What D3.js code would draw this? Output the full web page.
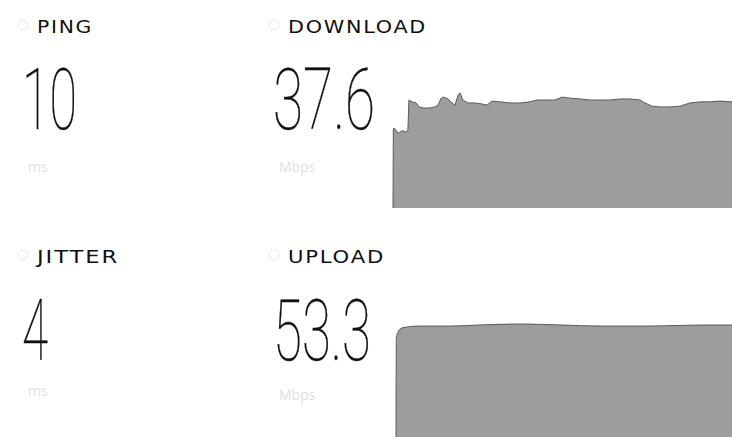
<!DOCTYPE html>
<html>
<head>
<meta charset="utf-8">
<script src="https://cdn.jsdelivr.net/npm/d3@7"></script>
<style>
  html, body { margin: 0; padding: 0; background: #fff; }
  svg { display: block; }
</style>
</head>
<body>
<div id="chart"></div>
<script>
// metric tiles
const labels = ["PING", "DOWNLOAD", "JITTER", "UPLOAD"];
const values = ["10", "37.6", "4", "53.3"];
const units = ["ms", "Mbps", "ms", "Mbps"];

// download throughput over the test (seconds, Mbps)
const downloadTimes = [0, 0.01, 0.03, 0.06, 0.15, 0.27, 0.38, 0.44, 0.47, 0.56, 0.68, 0.77, 0.91,
  1.09, 1.24, 1.33, 1.42, 1.50, 1.62, 1.74, 1.83, 1.92, 1.98, 2.06, 2.21, 2.42, 2.63, 2.77, 2.92,
  3.16, 3.45, 3.75, 4.04, 4.25, 4.48, 4.78, 4.99, 5.22, 5.52, 5.81, 6.11, 6.40, 6.70, 6.99, 7.29,
  7.43, 7.64, 7.88, 8.17, 8.47, 8.76, 9.06, 9.35, 9.65, 10];
const downloadMbps = [0, 29.3, 30, 29.6, 28, 29, 28.5, 29.3, 40.5, 39.8, 39.4, 37.9, 37.5,
  37.5, 37.9, 38.6, 41.2, 41.6, 40.9, 39.4, 38.6, 42.4, 43.1, 40.5, 39.4, 39.4, 39, 38.6, 40.1,
  39.8, 39.4, 39.4, 39.8, 40.5, 40.5, 40.5, 41.6, 41.2, 40.9, 40.5, 40.5, 40.5, 40.9, 40.9, 40.5,
  39.4, 38.2, 37.9, 37.9, 38.2, 39.4, 39.8, 39.8, 40.1, 39.8];

// upload throughput over the test
const uploadTimes = [0, 0.01, 0.06, 0.18, 0.7, 1.6, 2.5, 3.7, 4.9, 6.1, 7.6, 9.1, 10];
const uploadMbps = [0, 49, 51.8, 53.8, 54.7, 54.7, 55.2, 55.7, 55.2, 54.7, 54.7, 55.2, 55.2];

const width = 732, height = 437;

const svg = d3.select("#chart").append("svg")
  .attr("width", width)
  .attr("height", height)
  .attr("viewBox", [0, 0, width, height]);

// tile layout: column x, label baseline, number baseline, unit baseline
const tiles = [
  { x: 22, labelY: 33, numY: 129, unitY: 172, numW: 55 },
  { x: 273, labelY: 33, numY: 129, unitY: 172, numW: 102 },
  { x: 22, labelY: 263, numY: 360, unitY: 396, numW: 26 },
  { x: 273, labelY: 263, numY: 360, unitY: 400, numW: 98 }
];
const labelW = [56, 139, 82, 97];

const g = svg.selectAll("g.tile")
  .data(labels.map((l, i) => ({ label: l, value: values[i], unit: units[i], ...tiles[i], lw: labelW[i] })))
  .join("g")
  .attr("class", "tile");

// faint icon
g.append("circle")
  .attr("cx", d => d.x + 1)
  .attr("cy", d => d.labelY - 8)
  .attr("r", 5)
  .attr("fill", "none")
  .attr("stroke", "#e6e6e6")
  .attr("stroke-width", 1);

g.append("text")
  .attr("x", d => d.x + 15)
  .attr("y", d => d.labelY)
  .attr("font-family", "'DejaVu Sans', sans-serif")
  .attr("font-size", 18)
  .attr("letter-spacing", 1.5)
  .attr("fill", "#111")
  .attr("textLength", d => d.lw)
  .attr("lengthAdjust", "spacingAndGlyphs")
  .text(d => d.label);

g.append("text")
  .attr("x", d => d.x)
  .attr("y", d => d.numY)
  .attr("font-family", "Roboto, Inter, sans-serif")
  .attr("font-weight", 100)
  .attr("font-size", 86)
  .attr("fill", "#111")
  .attr("stroke", "#111")
  .attr("stroke-width", 0.4)
  .attr("textLength", d => d.numW)
  .attr("lengthAdjust", "spacingAndGlyphs")
  .text(d => d.value);

g.append("text")
  .attr("x", d => d.x + 6)
  .attr("y", d => d.unitY)
  .attr("font-family", "'Open Sans', sans-serif")
  .attr("font-size", 14)
  .attr("fill", "#e0e0e0")
  .text(d => d.unit);

// area charts
function drawArea(times, mbps, x0, x1, yBottom, yTop, maxV, curve) {
  const x = d3.scaleLinear().domain([0, 10]).range([x0, x1]);
  const y = d3.scaleLinear().domain([0, maxV]).range([yBottom, yTop]);
  const data = times.map((t, i) => ({ t, v: mbps[i] }));

  const area = d3.area()
    .x(d => x(d.t))
    .y0(y(0))
    .y1(d => y(d.v))
    .curve(curve);

  const line = d3.line()
    .x(d => x(d.t))
    .y(d => y(d.v))
    .curve(curve);

  svg.append("path")
    .datum(data)
    .attr("d", area)
    .attr("fill", "#9d9d9d");

  svg.append("path")
    .datum(data)
    .attr("d", line)
    .attr("fill", "none")
    .attr("stroke", "#5a5a5a")
    .attr("stroke-width", 1);
}

drawArea(downloadTimes, downloadMbps, 393, 732, 208, 88, 45, d3.curveLinear);
drawArea(uploadTimes, uploadMbps, 396, 732, 440, 315, 60, d3.curveMonotoneX);
</script>
</body>
</html>
